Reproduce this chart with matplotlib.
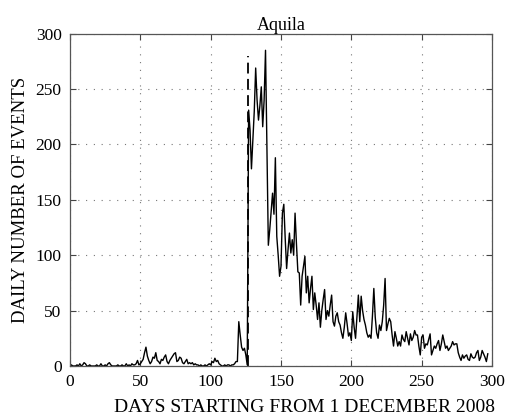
import numpy as np
import matplotlib
matplotlib.use('Agg')
import matplotlib.pyplot as plt

# daily event counts, day 0 .. 297
events_early = [0, 1, 0, 0, 0, 1, 0, 2, 0, 1, 3, 2, 0, 0, 1, 0, 0, 0, 0, 1,
                0, 0, 2, 0, 0, 1, 0, 2, 3, 1, 0, 0, 0, 0, 1, 0, 0, 1, 0, 0,
                2, 0, 1, 0, 2, 1, 1, 2, 5, 1, 2, 4, 6, 12, 17, 9, 5, 2, 4, 8,
                7, 12, 5, 4, 2, 6, 5, 8, 10, 4, 2, 5, 7, 9, 11, 12, 4, 5, 8, 7,
                3, 2, 4, 6, 2, 3, 2, 3, 1, 2, 1, 1, 0, 1, 0, 0, 1, 0, 1, 2,
                1, 4, 3, 7, 4, 5, 2, 1, 0, 0, 1, 0, 1, 1, 0, 1, 1, 2, 4, 4,
                40, 28, 17, 14, 16, 10, 1]
events_main = [231, 213, 178, 205, 230, 269, 240, 222, 235, 252, 216, 240, 285,
               200, 109, 123, 140, 156, 137, 188, 117, 100, 81, 90, 138, 146,
               115, 88, 105, 120, 102, 114, 100, 138, 110, 85, 84, 55, 81, 90,
               99, 66, 81, 57, 70, 81, 51, 66, 55, 42, 57, 35, 50, 60, 69, 42,
               50, 45, 55, 64, 40, 36, 45, 48, 40, 37]
events_late = [30, 25, 35, 48, 38, 27, 30, 23, 49, 35, 25, 45, 64, 40, 63, 50,
               42, 37, 30, 26, 28, 25, 45, 70, 44, 30, 25, 37, 32, 40, 55, 79,
               32, 38, 43, 40, 28, 18, 31, 25, 18, 22, 18, 28, 24, 22, 31, 25,
               19, 29, 23, 26, 32, 28, 28, 18, 10, 26, 28, 16, 20, 19, 24, 29,
               10, 14, 18, 16, 20, 23, 14, 20, 28, 22, 16, 18, 14, 16, 18, 22,
               19, 20, 20, 12, 8, 5, 10, 7, 9, 10, 6, 5, 11, 8, 7, 8, 12, 14,
               5, 8, 14, 11, 8, 4, 11]
events = events_early + events_main + events_late
days = np.arange(len(events))

mainshock_day = 126.5
mainshock_top = 280

plt.rcParams['font.family'] = ['Liberation Serif', 'DejaVu Serif']
plt.rcParams['font.size'] = 12.5

fig = plt.figure(figsize=(5.09, 4.20), dpi=100)
ax = fig.add_axes([0.1375, 0.1286, 0.8291, 0.7912])

ax.plot(days, events, color='black', linewidth=1.0)
ax.plot([mainshock_day, mainshock_day], [0, mainshock_top], color='black',
        linewidth=1.3, linestyle=(0, (6, 3)))

ax.set_xlim(0, 300)
ax.set_ylim(0, 300)
ax.set_xticks(np.arange(0, 301, 50))
ax.set_yticks(np.arange(0, 301, 50))
ax.grid(True, linestyle=(0, (1, 6)), color='#777777', linewidth=0.8)
ax.tick_params(direction='in', top=True, right=True, length=4, width=0.8,
               colors='#444444', labelcolor='black', pad=6)
for sp in ax.spines.values():
    sp.set_color('#555555')
    sp.set_linewidth(0.9)

ax.set_title('Aquila', fontsize=13, pad=3)
ax.set_xlabel('DAYS STARTING FROM 1 DECEMBER 2008', fontsize=14)
ax.xaxis.set_label_coords(0.555, -0.1)
ax.set_ylabel('DAILY NUMBER OF EVENTS', fontsize=13.5, labelpad=5)

fig.savefig('out.png', dpi=100)
